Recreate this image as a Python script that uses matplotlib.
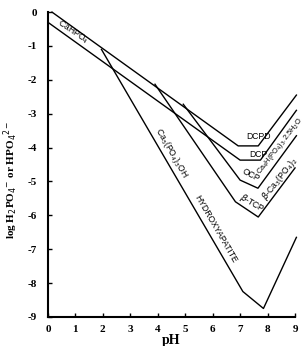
import matplotlib
matplotlib.use("Agg")
from matplotlib import pyplot as plt

matplotlib.rcParams['axes.unicode_minus'] = False

# solubility isotherms (pH, log conc)
dcpd_ph = [0.15, 6.93, 7.66, 9.05]
dcpd_y = [0.0, -3.95, -3.95, -2.45]
dcp_ph = [0.0, 7.0, 7.74, 9.05]
dcp_y = [-0.3, -4.37, -4.37, -2.9]
ocp_ph = [4.93, 7.0, 7.65, 9.05]
ocp_y = [-2.72, -4.96, -5.2, -3.65]
tcp_ph = [3.9, 6.83, 7.66, 9.0]
tcp_y = [-2.13, -5.6, -6.05, -4.6]
ha_ph = [1.95, 7.1, 7.85, 9.05]
ha_y = [-1.1, -8.25, -8.75, -6.65]

xticks = list(range(0, 10))
yticks = list(range(-9, 1))

fig = plt.figure(figsize=(3.07, 3.46), dpi=100)
ax = fig.add_axes([0.156, 0.084, 0.805, 0.881])

for xs, ys in [(dcpd_ph, dcpd_y), (dcp_ph, dcp_y), (ocp_ph, ocp_y),
               (tcp_ph, tcp_y), (ha_ph, ha_y)]:
    ax.plot(xs, ys, color='black', lw=1.0, clip_on=False)

ax.set_xlim(0, 9)
ax.set_ylim(-9, 0)
ax.spines['top'].set_visible(False)
ax.spines['right'].set_visible(False)
ax.spines['left'].set_linewidth(1.5)
ax.spines['bottom'].set_linewidth(1.5)
ax.set_xticks(xticks)
ax.set_yticks(yticks)
ax.tick_params(direction='in', length=3, width=1)
serif = {'family': 'Liberation Serif', 'weight': 'bold'}
ax.set_xticklabels([str(v) for v in xticks], fontdict=dict(serif, size=8))
ax.set_yticklabels([str(v) for v in yticks], fontdict=dict(serif, size=8))
ax.tick_params(axis='x', pad=6)
ax.tick_params(axis='y', pad=8)
ax.set_xlabel('pH', fontdict=dict(serif, size=10), labelpad=0)
ax.set_ylabel(r'log H$_2$PO$_4$$^{-}$ or HPO$_4$$^{2-}$', fontdict=dict(serif, size=8))
ax.yaxis.set_label_coords(-0.112, 0.45)

sans = {'family': 'Liberation Sans', 'size': 6.2}
ax.text(0.9, -0.6, r'CaHPO$_4$', rotation=-34, ha='center', va='center', **sans)
ax.text(4.5, -4.15, r'Ca$_5$(PO$_4$)$_3$OH', rotation=-60, ha='center', va='center', **sans)
ax.text(6.1, -6.4, 'HYDROXYAPATITE', rotation=-60, ha='center', va='center', **sans)
ax.text(7.66, -3.66, 'DCPD', ha='center', va='center', **sans)
ax.text(7.66, -4.2, 'DCP', ha='center', va='center', **sans)
ax.text(7.38, -4.82, 'OCP', rotation=-28, ha='center', va='center', **sans)
ax.text(7.45, -5.63, r'$\beta$-TCP', rotation=-30, ha='center', va='center', **sans)
ax.text(8.45, -3.95, r'Ca$_4$H(PO$_4$)$_3$.2.5H$_2$O', rotation=52, ha='center', va='center',
        family='Liberation Sans', size=5.3)
ax.text(8.45, -4.92, r'$\beta$-Ca$_3$(PO$_4$)$_2$', rotation=52, ha='center', va='center', **sans)

fig.savefig('out.png', dpi=100)
